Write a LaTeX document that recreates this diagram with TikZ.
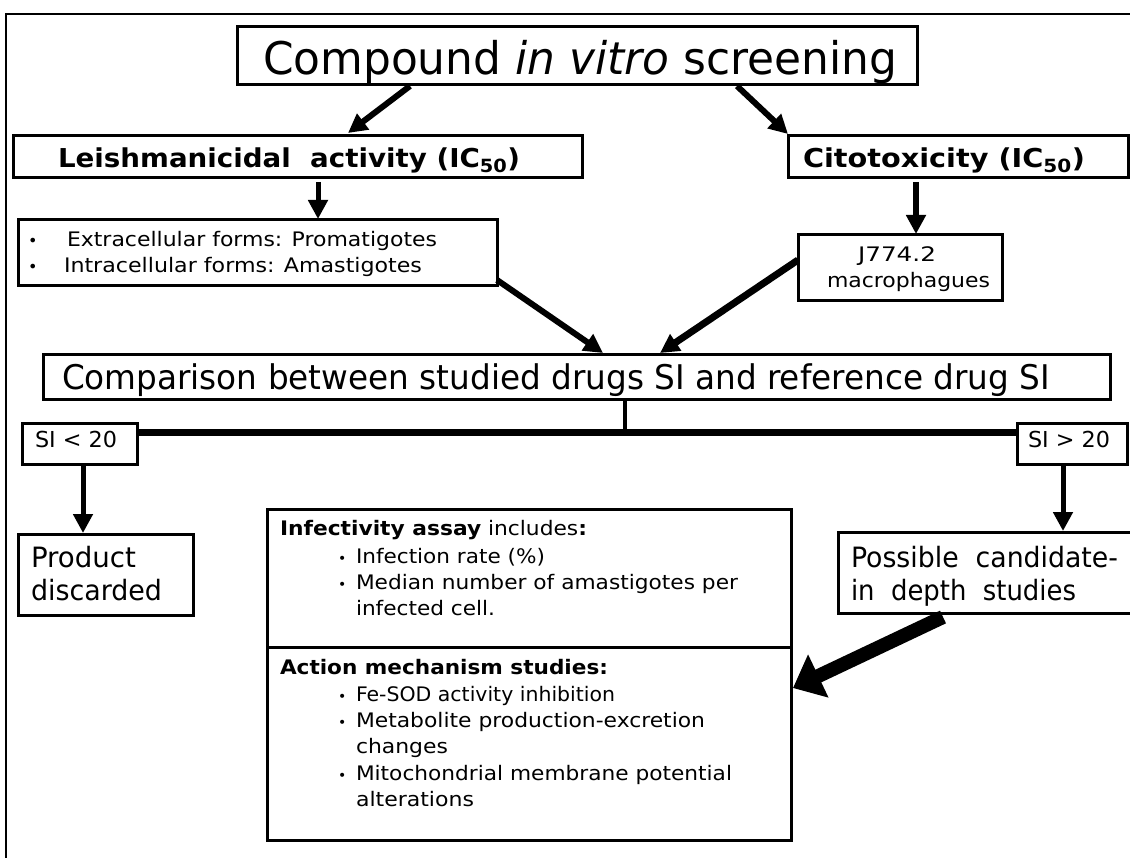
\documentclass[tikz,border=0pt]{standalone}
\usepackage{fontspec}
\setmainfont{DejaVu Sans}
\usepackage{graphicx}
\usetikzlibrary{arrows.meta,calc}
\newcommand\fw[2]{\resizebox{#1pt}{\height}{#2}}
\newcommand\fsz[1]{\fontsize{#1}{#1}\selectfont}
\begin{document}
\begin{tikzpicture}[x=1pt,y=-1pt,
  box/.style={draw,line width=3pt,anchor=north west,inner sep=0pt,outer sep=0pt},
  txt/.style={anchor=base west,inner sep=0pt,outer sep=0pt},
  arr/.style={line width=5pt,-{Triangle[length=19pt,width=19pt]}},
  bigarr/.style={line width=14pt,-{Triangle[length=28pt,width=46pt]}},
]
\useasboundingbox (0,0) rectangle (1130,858);
\fill[white] (0,0) rectangle (1130,858);
\draw[line width=2pt] (6,858) -- (6,14) -- (1130,14);

% boxes
\node[box,minimum width=680pt,minimum height=58pt] (title) at (237,27) {};
\node[box,minimum width=569pt,minimum height=42pt] (leish) at (13,136) {};
\node[box,minimum width=340pt,minimum height=42pt] (cito) at (788,136) {};
\node[box,minimum width=479pt,minimum height=66pt] (extra) at (18,220) {};
\node[box,minimum width=204pt,minimum height=66pt] (j774) at (798,235) {};
\node[box,minimum width=1067pt,minimum height=45pt] (comp) at (43,355) {};
\node[box,minimum width=115pt,minimum height=40pt] (silt) at (22,424) {};
\node[box,minimum width=110pt,minimum height=40pt] (sigt) at (1017,424) {};
\node[box,minimum width=175pt,minimum height=81pt] (prod) at (18,534) {};
\node[box,minimum width=300pt,minimum height=81pt] (poss) at (838,532) {};
\node[box,minimum width=524pt,minimum height=138pt] (mida) at (267,509) {};
\node[box,minimum width=524pt,minimum height=193pt] (midb) at (267,647) {};

% texts
\node[txt] (ttitle) at (263,75) {\fw{634}{\fsz{45}Compound \textit{in vitro} screening}};
\node[txt] (tleish) at (58,168) {\fw{462}{\fsz{26}\bfseries Leishmanicidal\ \ activity (IC\textsubscript{50})}};
\node[txt] (tcito) at (803,168) {\fw{282}{\fsz{26}\bfseries Citotoxicity (IC\textsubscript{50})}};
\node[txt] (b1) at (28,247) {\fsz{16}•};
\node[txt] (b2) at (28,273) {\fsz{16}•};
\node[txt] (textra) at (67,247) {\fw{370}{\fsz{20}Extracellular forms: Promatigotes}};
\node[txt] (tintra) at (64,273) {\fw{358}{\fsz{20}Intracellular forms: Amastigotes}};
\node[txt] (tj1) at (858,262) {\fw{78}{\fsz{20}J774.2}};
\node[txt] (tj2) at (827,288) {\fw{163}{\fsz{20}macrophagues}};
\node[txt] (tcomp) at (62,390) {\fw{988}{\fsz{34}Comparison between studied drugs SI and reference drug SI}};
\node[txt] (tsilt) at (35,447) {\fw{82}{\fsz{22}SI < 20}};
\node[txt] (tsigt) at (1028,447) {\fw{82}{\fsz{22}SI > 20}};
\node[txt] (tprod1) at (31,567) {\fw{105}{\fsz{28}Product}};
\node[txt] (tprod2) at (31,600) {\fw{131}{\fsz{28}discarded}};
\node[txt] (tposs1) at (851,567) {\fw{267}{\fsz{28}Possible\ \ candidate-}};
\node[txt] (tposs2) at (851,600) {\fw{225}{\fsz{28}in\ \ depth\ \ studies}};

\node[txt] (tinf) at (280,535) {\fw{307}{\fsz{20}\textbf{Infectivity assay} includes\textbf{:}}};
\node[txt] (tinf1) at (356,563) {\fw{189}{\fsz{20}Infection rate (\%)}};
\node[txt] (tinf2) at (356,589) {\fw{382}{\fsz{20}Median number of amastigotes per}};
\node[txt] (tinf3) at (356,615) {\fw{139}{\fsz{20}infected cell.}};
\node[txt] (tact) at (280,674) {\fw{328}{\fsz{20}\bfseries Action mechanism studies:}};
\node[txt] (tact1) at (356,701) {\fw{259}{\fsz{20}Fe-SOD activity inhibition}};
\node[txt] (tact2) at (356,727) {\fw{349}{\fsz{20}Metabolite production-excretion}};
\node[txt] (tact3) at (356,753) {\fw{92}{\fsz{20}changes}};
\node[txt] (tact4) at (356,780) {\fw{376}{\fsz{20}Mitochondrial membrane potential}};
\node[txt] (tact5) at (356,806) {\fw{118}{\fsz{20}alterations}};
\foreach \yy/\nm in {563/c1,589/c2,701/c3,727/c4,780/c5}
  \node[txt] (d\nm) at (338,\yy) {\fsz{14}•};

% connectors
\draw[arr,line width=6pt] ($(title.south west)+(173,1)$) -- ($(leish.north west)+(335,-3)$);
\draw[arr,line width=6pt] ($(title.south west)+(500,1)$) -- ($(cito.north west)+(0,-2)$);
\draw[arr] ($(leish.south west)+(305,4)$) -- ($(extra.north west)+(300,-1)$);
\draw[arr,line width=6pt] ($(cito.south west)+(128,4)$) -- ($(j774.north west)+(118,-1)$);
\draw[arr,line width=6pt] ($(extra.north east)+(0,60)$) -- ($(comp.north west)+(560,-2)$);
\draw[arr,line width=7pt] ($(j774.north west)+(0,25)$) -- ($(comp.north west)+(617,-2)$);
\draw[line width=4pt] ($(comp.south west)+(582,0)$) -- ($(comp.south west)+(582,36)$);
\draw[line width=7pt] ($(silt.north east)+(0,9)$) -- ($(sigt.north west)+(0,9)$);
\draw[arr] ($(silt.south west)+(61,0)$) -- ($(prod.north west)+(65,-1)$);
\draw[arr] ($(sigt.south west)+(46,0)$) -- ($(poss.north west)+(225,-1)$);
\draw[bigarr] ($(poss.south west)+(105,4)$) -- ($(midb.north east)+(2,41)$);
\end{tikzpicture}
\end{document}
